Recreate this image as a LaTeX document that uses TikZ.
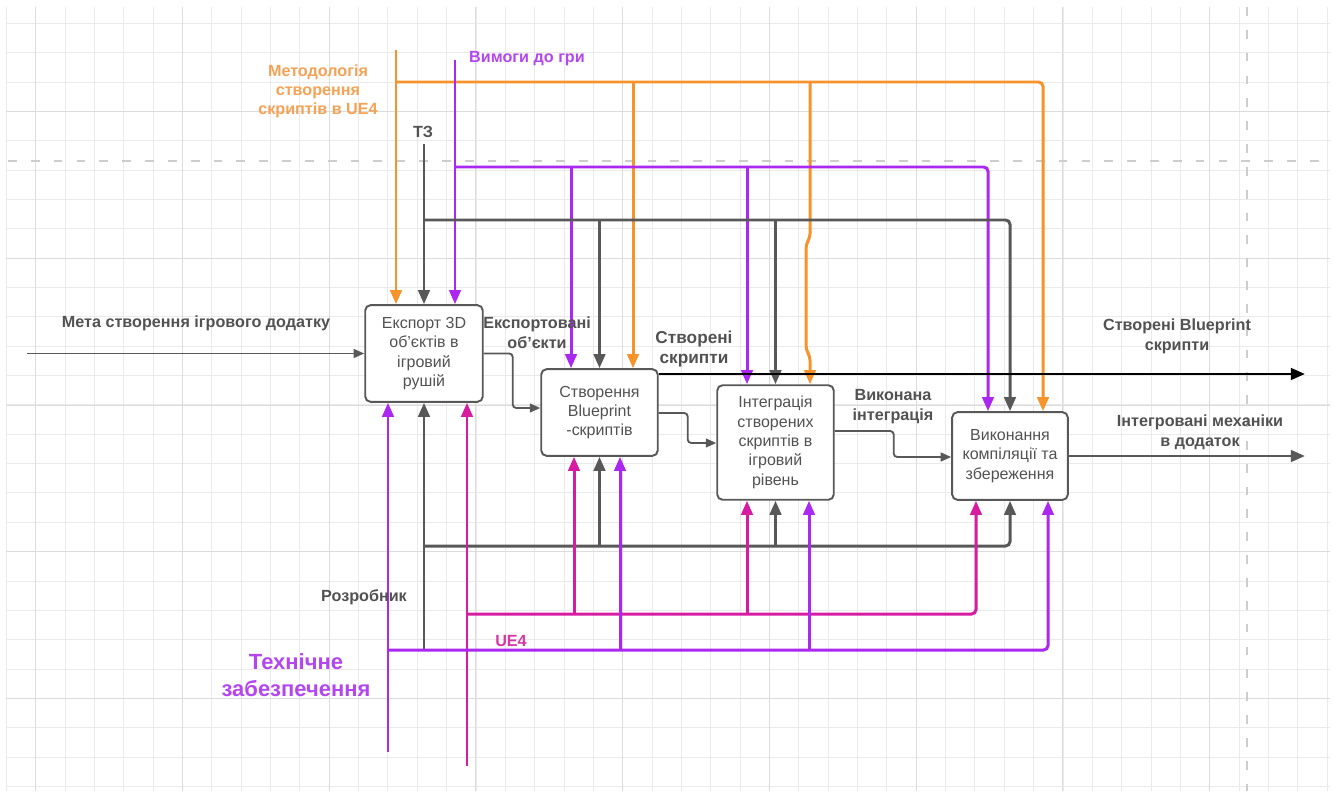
\documentclass[tikz,border=0pt]{standalone}
\usepackage{fontspec}
\setmainfont{Liberation Sans}
\usepackage{xcolor}
\usetikzlibrary{arrows.meta}
\usetikzlibrary{calc}

\definecolor{lineorange}{RGB}{247,147,43}
\definecolor{textorange}{RGB}{245,162,85}
\definecolor{linepurple}{RGB}{170,40,240}
\definecolor{textpurple}{RGB}{180,70,240}
\definecolor{linemagenta}{RGB}{214,28,160}
\definecolor{textmagenta}{RGB}{215,55,165}
\definecolor{linegray}{RGB}{88,88,88}
\definecolor{textgray}{RGB}{82,82,82}
\definecolor{gridminor}{RGB}{234,234,234}
\definecolor{gridmajor}{RGB}{220,220,220}
\definecolor{pagebreak}{RGB}{205,205,205}

\tikzset{
  func/.style={draw=linegray, line width=1.1pt, rounded corners=3pt, fill=white,
    align=center, text=textgray, inner sep=0pt,
    font=\fontsize{9.1pt}{11pt}\selectfont},
  lbl/.style={align=center, text=textgray, inner sep=0pt,
    font=\fontsize{9.2pt}{11.3pt}\selectfont\bfseries},
  wire/.style={line width=1.7pt, rounded corners=2.5pt, ->},
  flow/.style={draw=linegray, line width=1.05pt, rounded corners=2pt,
    -{Triangle[length=6pt,width=5pt]}},
}

\begin{document}
\begin{tikzpicture}[x=0.02cm, y=-0.02cm, >={Triangle[length=8pt,width=6.5pt]}]
\useasboundingbox (0,0) rectangle (1335,791);
\fill[white] (0,0) rectangle (1335,791);

\begin{scope}
  \clip (6,7) rectangle (1330,791);
  \foreach \k in {0,...,45}
    \draw[gridminor, line width=0.5pt] ({6.35+29.35*\k},7) -- ({6.35+29.35*\k},791);
  \foreach \k in {0,...,26}
    \draw[gridminor, line width=0.5pt] (6,{23.3+29.35*\k}) -- (1330,{23.3+29.35*\k});
  \foreach \k in {0,...,8}
    \draw[gridmajor, line width=0.6pt] ({35.7+146.75*\k},7) -- ({35.7+146.75*\k},791);
  \foreach \k in {0,...,4}
    \draw[gridmajor, line width=0.6pt] (6,{111.7+146.75*\k}) -- (1330,{111.7+146.75*\k});
\end{scope}
\draw[pagebreak, line width=1.6pt, dash pattern=on 5pt off 8pt] (8,161) -- (1330,161);
\draw[pagebreak, line width=1.6pt, dash pattern=on 5pt off 8pt] (1247,7) -- (1247,791);

\node[func, minimum width=66.9pt, minimum height=55pt] (export) at (424,353.5)
  {Експорт 3D\\об'єктів в\\ігровий\\рушій};
\node[func, minimum width=66.3pt, minimum height=49.3pt] (create) at (599.5,412.5)
  {Створення\\Blueprint\\-скриптів};
\node[func, minimum width=66.3pt, minimum height=65.2pt] (integr) at (775.5,442.5)
  {Інтеграція\\створених\\скриптів в\\ігровий\\рівень};
\node[func, minimum width=65.8pt, minimum height=49.9pt] (compile) at (1010,456)
  {Виконання\\компіляції та\\збереження};

\coordinate (metod) at (396,50);
\coordinate (vymogy) at (455,60);
\coordinate (tz) at (424,144);
\coordinate (meta) at (27,353.5);
\coordinate (dev) at (424,650);
\coordinate (tech) at (388,752);
\coordinate (ue) at (467,766);
\coordinate (outbp) at (1305,374);
\coordinate (outint) at (1305,456);

\draw[wire, lineorange] (metod) -- (metod |- export.north);
\draw[wire, lineorange] (metod |- 0,82) -| (1043,0 |- compile.north);
\draw[wire, lineorange] (633,82) -- (633,0 |- create.north);
\draw[wire, lineorange] (810,82) -- (810,238) -- (806,244) -- (806,350) -- (810,356)
  -- (810,0 |- integr.north);

\draw[wire, linepurple] (vymogy) -- (vymogy |- export.north);
\draw[wire, linepurple] (vymogy |- 0,167) -| (988,0 |- compile.north);
\draw[wire, linepurple] (571,167) -- (571,0 |- create.north);
\draw[wire, linepurple] (747,167) -- (747,0 |- integr.north);

\draw[wire, linegray] (tz) -- (export.north);
\draw[wire, linegray] (tz |- 0,220) -| (compile.north);
\draw[wire, linegray] (create.north |- 0,220) -- (create.north);
\draw[wire, linegray] (integr.north |- 0,220) -- (integr.north);

\draw[wire, linegray] (dev) -- (export.south);
\draw[wire, linegray] (dev |- 0,546) -| (compile.south);
\draw[wire, linegray] (create.south |- 0,546) -- (create.south);
\draw[wire, linegray] (integr.south |- 0,546) -- (integr.south);

\draw[wire, linemagenta] (ue) -- (ue |- export.south);
\draw[wire, linemagenta] (ue |- 0,614) -| (976,0 |- compile.south);
\draw[wire, linemagenta] (574,614) -- (574,0 |- create.south);
\draw[wire, linemagenta] (747,614) -- (747,0 |- integr.south);

\draw[wire, linepurple] (tech) -- (tech |- export.south);
\draw[wire, linepurple] (tech |- 0,650) -| (1048,0 |- compile.south);
\draw[wire, linepurple] (620,650) -- (620,0 |- create.south);
\draw[wire, linepurple] (809,650) -- (809,0 |- integr.south);

\draw[flow] (meta) -- (export.west);
\draw[flow] (export.east) -- ++(29,0) |- (create.west |- 0,408);
\draw[flow] (create.east |- 0,413) -- ++(29,0) |- (integr.west |- 0,443);
\draw[flow] (integr.east |- 0,431) -- ++(59,0) |- (compile.west |- 0,457);

\draw[line width=1.7pt, black, ->] (create.east |- 0,374) -- (outbp);
\draw[line width=1.7pt, linegray, ->] (compile.east) -- (outint);

\node[lbl] (metalbl) at (196,323) {Мета створення ігрового додатку};
\node[lbl, text=textorange, font=\fontsize{9.2pt}{10.8pt}\selectfont\bfseries] (metodlbl) at (318,91)
  {Методологія\\створення\\скриптів в UE4};
\node[lbl, text=textpurple] (vymlbl) at (527,59) {Вимоги до гри};
\node[lbl] (tzlbl) at (423,132) {ТЗ};
\node[lbl] (explbl) at (537,333) {Експортовані\\об'єкти};
\node[lbl, font=\fontsize{9.8pt}{11.9pt}\selectfont\bfseries] (scrlbl) at (694,349) {Створені\\скрипти};
\node[lbl] (bplbl) at (1177,336) {Створені Blueprint\\скрипти};
\node[lbl] (donelbl) at (893,407) {Виконана\\інтеграція};
\node[lbl] (intlbl) at (1200,432) {Інтегровані механіки\\в додаток};
\node[lbl] (devlbl) at (364,597) {Розробник};
\node[lbl, text=textmagenta] (uelbl) at (511,641) {UE4};
\node[lbl, text=textpurple, font=\fontsize{12.5pt}{15.3pt}\selectfont\bfseries] (techlbl) at (296,675)
  {Технічне\\забезпечення};
\end{tikzpicture}
\end{document}
